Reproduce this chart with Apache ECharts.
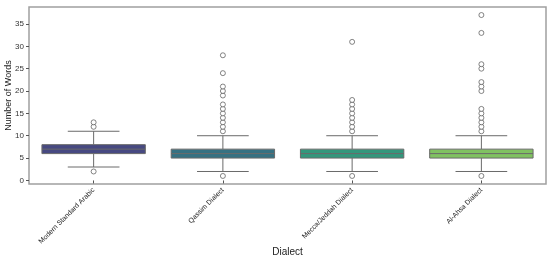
<!DOCTYPE html>
<html><head><meta charset="utf-8">
<script src="https://cdn.jsdelivr.net/npm/echarts@6/dist/echarts.min.js"></script>
<style>html,body{margin:0;padding:0;background:#fff}#c{width:550px;height:260px}</style>
</head><body><div id="c"></div>
<script>
const categories = ['Modern Standard Arabic', 'Qassim Dialect', 'Mecca/Jeddah Dialect', 'Al-Ahsa Dialect'];
const whiskerLow = [3, 2, 2, 2];
const q1 = [6, 5, 5, 5];
const median = [7, 6, 6, 6];
const q3 = [8, 7, 7, 7];
const whiskerHigh = [11, 10, 10, 10];
const outliers = [
  [2, 12, 13],
  [1, 11, 12, 13, 14, 15, 16, 17, 19, 20, 21, 24, 28],
  [1, 11, 12, 13, 14, 15, 16, 17, 18, 31],
  [1, 11, 12, 13, 14, 15, 16, 20, 21, 22, 25, 26, 33, 37]
];
const yTicks = [0, 5, 10, 15, 20, 25, 30, 35];
const colors = ['#474981', '#367182', '#33977c', '#80c161'];

const boxData = categories.map((c, i) => [i, whiskerLow[i], q1[i], median[i], q3[i], whiskerHigh[i]]);
const outlierData = [];
outliers.forEach((arr, i) => arr.forEach(v => outlierData.push([i, v])));

const lineCol = '#6a6a6a';
const chart = echarts.init(document.getElementById('c'));
chart.setOption({
  animation: false,
  textStyle: { fontFamily: 'Liberation Sans, Arial, sans-serif' },
  grid: { left: 29, top: 7, right: 4, bottom: 76, containLabel: false, outerBoundsMode: 'none',
    show: true, borderColor: '#a0a0a0', borderWidth: 1.5, backgroundColor: 'transparent' },
  xAxis: {
    type: 'category', data: categories, boundaryGap: true,
    axisLine: { show: false },
    axisTick: { show: true, alignWithLabel: true, length: 3, lineStyle: { color: '#555' } },
    axisLabel: { rotate: 45, fontSize: 7, color: '#222', margin: 5, interval: 0 },
    name: 'Dialect', nameLocation: 'middle', nameGap: 63, nameMoveOverlap: false,
    nameTextStyle: { fontSize: 10, color: '#222' },
    splitLine: { show: false }
  },
  yAxis: {
    type: 'value', min: -0.8, max: 38.8,
    axisLine: { show: false },
    axisTick: { show: true, length: 3, lineStyle: { color: '#555' }, customValues: yTicks },
    axisLabel: { fontSize: 8, color: '#333', margin: 5, customValues: yTicks },
    splitLine: { show: false },
    name: 'Number of Words', nameLocation: 'middle', nameGap: 16, nameMoveOverlap: false,
    nameTextStyle: { fontSize: 9, color: '#222' }
  },
  series: [
    {
      type: 'custom',
      data: boxData,
      encode: { x: 0, y: [1, 2, 3, 4, 5] },
      renderItem: function (params, api) {
        const idx = api.value(0);
        const band = api.size([1, 0])[0];
        const pLow = api.coord([idx, api.value(1)]);
        const pQ1 = api.coord([idx, api.value(2)]);
        const pMed = api.coord([idx, api.value(3)]);
        const pQ3 = api.coord([idx, api.value(4)]);
        const pHigh = api.coord([idx, api.value(5)]);
        const cx = pMed[0];
        const bw = band * 0.8, cw = band * 0.4;
        const ls = { stroke: lineCol, lineWidth: 1 };
        return {
          type: 'group',
          children: [
            { type: 'line', shape: { x1: cx, y1: pQ3[1], x2: cx, y2: pHigh[1] }, style: ls },
            { type: 'line', shape: { x1: cx, y1: pQ1[1], x2: cx, y2: pLow[1] }, style: ls },
            { type: 'line', shape: { x1: cx - cw / 2, y1: pHigh[1], x2: cx + cw / 2, y2: pHigh[1] }, style: ls },
            { type: 'line', shape: { x1: cx - cw / 2, y1: pLow[1], x2: cx + cw / 2, y2: pLow[1] }, style: ls },
            { type: 'rect', shape: { x: cx - bw / 2, y: pQ3[1], width: bw, height: pQ1[1] - pQ3[1] },
              style: { fill: colors[idx], stroke: lineCol, lineWidth: 1 } },
            { type: 'line', shape: { x1: cx - bw / 2, y1: pMed[1], x2: cx + bw / 2, y2: pMed[1] }, style: ls }
          ]
        };
      }
    },
    {
      type: 'scatter',
      data: outlierData,
      symbol: 'circle', symbolSize: 5,
      itemStyle: { color: '#fff', borderColor: '#555', borderWidth: 0.9 }
    }
  ]
});
</script>
</body></html>
